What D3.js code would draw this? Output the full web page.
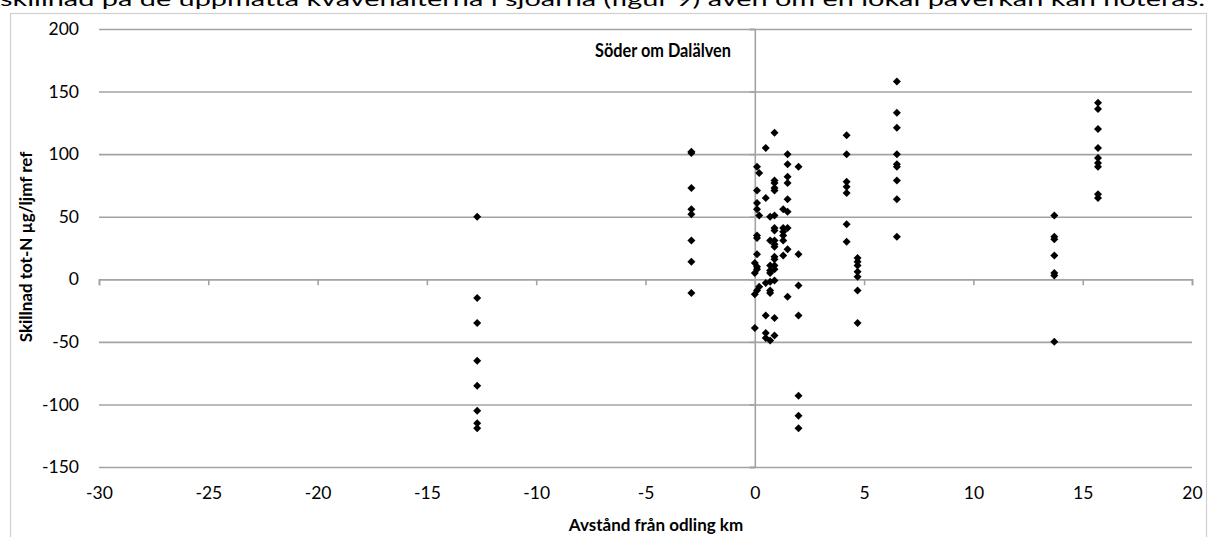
<!DOCTYPE html>
<html>
<head>
<meta charset="utf-8">
<script src="https://cdn.jsdelivr.net/npm/d3@7"></script>
<style>
  html, body { margin: 0; padding: 0; background: #fff; }
  svg { display: block; }
</style>
</head>
<body>
<svg id="chart" width="1209" height="537"></svg>
<script>
// Difference in total nitrogen against the reference lake, by distance from the farm
const xTicks = [-30, -25, -20, -15, -10, -5, 0, 5, 10, 15, 20];
const yTicks = [-150, -100, -50, 0, 50, 100, 150, 200];

// distance (km) of each sampled lake from the farm
const distances = [-12.7, -2.9, 0.0, 0.1, 0.2, 0.5, 0.7, 0.9, 1.3, 1.5, 2.0, 4.2, 4.7, 6.5, 13.7, 15.7];

// measured differences (µg/l vs reference) for each distance, in the same order
const diffM12_7 = [50, -15, -35, -65, -85, -105, -115, -119];
const diffM2_9  = [102, 101, 73, 56, 52, 31, 14, -11];
const diff0_0   = [13, 5, -12, -39];
const diff0_1   = [90, 71, 61, 56, 35, 33, 20, 10, 8, -9];
const diff0_2   = [85, 51, -6];
const diff0_5   = [105, 65, -3, -29, -43, -47];
const diff0_7   = [50, 31, 11, 7, 5, -2, -9, -11, -49];
const diff0_9   = [117, 79, 77, 73, 71, 51, 41, 39, 31, 28, 26, 18, 16, 11, 8, -1, -31, -45];
const diff1_3   = [56, 41, 38, 35, 31, 19];
const diff1_5   = [100, 92, 82, 77, 64, 54, 41, 24, -14];
const diff2_0   = [90, 20, -5, -29, -93, -109, -119];
const diff4_2   = [115, 100, 78, 74, 69, 44, 30];
const diff4_7   = [17, 14, 11, 6, 2, -9, -35];
const diff6_5   = [158, 133, 121, 100, 92, 90, 79, 64, 34];
const diff13_7  = [51, 34, 32, 19, 5, 3, -50];
const diff15_7  = [141, 136, 120, 105, 97, 93, 90, 68, 65];

const diffs = [diffM12_7, diffM2_9, diff0_0, diff0_1, diff0_2, diff0_5, diff0_7, diff0_9,
               diff1_3, diff1_5, diff2_0, diff4_2, diff4_7, diff6_5, diff13_7, diff15_7];

const points = [];
distances.forEach((d, i) => diffs[i].forEach(v => points.push({ x: d, y: v })));

const FONT = "Lato, 'Open Sans', sans-serif";
const fmt = d => String(d);   // plain hyphen for negative numbers
const svg = d3.select("#chart");

const plot = { left: 99, right: 1192, top: 29, bottom: 467 };
const x = d3.scaleLinear().domain([-30, 20]).range([plot.left, plot.right]);
const y = d3.scaleLinear().domain([-150, 200]).range([plot.bottom, plot.top]);

const gridColor = "#a3a3a3";

// running text of the page above the chart (cut at the top)
svg.append("text")
  .attr("x", 0).attr("y", 6)
  .attr("font-family", FONT).attr("font-size", 20)
  .attr("textLength", 1205).attr("lengthAdjust", "spacingAndGlyphs")
  .attr("fill", "#000")
  .text("skillnad på de uppmätta kvävehalterna i sjöarna (figur 9) även om en lokal påverkan kan noteras.");

// chart frame
svg.append("rect")
  .attr("x", 10.5).attr("y", 13.5).attr("width", 1196).attr("height", 540)
  .attr("fill", "none").attr("stroke", "#d0d0d0").attr("stroke-width", 1.2);

// horizontal gridlines
const grid = svg.append("g")
  .attr("transform", `translate(${plot.left},0)`)
  .call(d3.axisLeft(y).tickValues(yTicks).tickSize(-(plot.right - plot.left)).tickFormat(""));
grid.select(".domain").remove();
grid.selectAll("line").attr("stroke", gridColor).attr("stroke-width", 1.6);

// y tick labels
const yLab = svg.append("g")
  .attr("transform", `translate(${plot.left},0)`)
  .call(d3.axisLeft(y).tickValues(yTicks).tickSize(0).tickPadding(20).tickFormat(fmt));
yLab.select(".domain").remove();
yLab.selectAll("text")
  .attr("font-family", FONT).attr("font-size", 17.5).attr("fill", "#000");

// vertical axis through x = 0
const yAxis = svg.append("g")
  .attr("transform", `translate(${x(0)},0)`)
  .call(d3.axisLeft(y).tickValues(yTicks).tickSize(5).tickFormat(""));
yAxis.select(".domain").attr("stroke", gridColor).attr("stroke-width", 1.6);
yAxis.selectAll("line").attr("stroke", gridColor).attr("stroke-width", 1.6);

// horizontal axis through y = 0, labels placed below the plot
const xAxis = svg.append("g")
  .attr("transform", `translate(0,${y(0)})`)
  .call(d3.axisBottom(x).tickValues(xTicks).tickSize(6).tickSizeOuter(6).tickFormat(fmt));
xAxis.select(".domain").attr("stroke", gridColor).attr("stroke-width", 1.6);
xAxis.selectAll("line").attr("stroke", gridColor).attr("stroke-width", 1.6);
xAxis.selectAll("text")
  .attr("font-family", FONT).attr("font-size", 17.5).attr("fill", "#000")
  .attr("dy", null)
  .attr("y", plot.bottom + 32 - y(0));

// scatter markers (rotated squares)
const diamond = d3.symbol().type(d3.symbolSquare).size(32);
svg.append("g")
  .selectAll("path")
  .data(points)
  .join("path")
  .attr("d", diamond)
  .attr("transform", d => `translate(${x(d.x)},${y(d.y)}) rotate(45)`)
  .attr("fill", "#000");

// title inside the plot
svg.append("text")
  .attr("x", 663).attr("y", 57)
  .attr("text-anchor", "middle")
  .attr("font-family", FONT).attr("font-size", 18.5).attr("font-weight", "bold")
  .attr("textLength", 136).attr("lengthAdjust", "spacingAndGlyphs")
  .text("Söder om Dalälven");

// axis titles
svg.append("text")
  .attr("x", 656).attr("y", 531)
  .attr("text-anchor", "middle")
  .attr("font-family", FONT).attr("font-size", 17).attr("font-weight", "bold")
  .text("Avstånd från odling km");

svg.append("text")
  .attr("transform", "translate(32,247) rotate(-90)")
  .attr("text-anchor", "middle")
  .attr("font-family", FONT).attr("font-size", 17).attr("font-weight", "bold")
  .text("Skillnad tot-N µg/ljmf ref");
</script>
</body>
</html>
